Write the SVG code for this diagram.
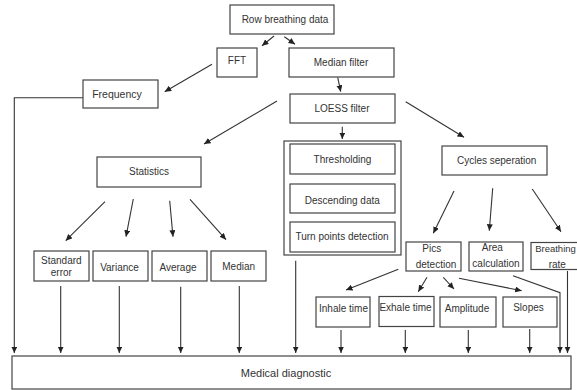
<svg xmlns="http://www.w3.org/2000/svg" width="577" height="390" viewBox="0 0 577 390">
<defs>
<style>
.box{fill:#fff;stroke:#444;stroke-width:1.2}
.t{font-family:"Liberation Sans",Arial,sans-serif;font-size:10px;fill:#333;text-anchor:middle}
.c{fill:none;stroke:#333;stroke-width:1.1}
.a{marker-end:url(#arr)}
</style>
<marker id="arr" markerUnits="userSpaceOnUse" markerWidth="7" markerHeight="7" refX="6.5" refY="3" orient="auto">
<path d="M0,0 L6.5,3 L0,6 z" fill="#222"/>
</marker>
</defs>
<rect width="577" height="390" fill="#fff"/>

<g id="connectors">
<line class="c a" x1="274" y1="36" x2="262" y2="45.7"/>
<line class="c a" x1="284.3" y1="36.7" x2="295" y2="44.3"/>
<line class="c a" x1="212" y1="64.3" x2="164.7" y2="91.7"/>
<line class="c a" x1="337.7" y1="77.3" x2="340.7" y2="91.7"/>
<line class="c a" x1="277" y1="101" x2="204" y2="144"/>
<line class="c a" x1="342.3" y1="126.7" x2="342.3" y2="139"/>
<line class="c a" x1="405.7" y1="101.7" x2="464" y2="137.3"/>
<polyline class="c a" points="83,97.7 14.3,97.7 14.3,353"/>
<line class="c a" x1="105" y1="201.7" x2="65.7" y2="240.7"/>
<line class="c a" x1="133.3" y1="199" x2="126" y2="236.7"/>
<line class="c a" x1="169.7" y1="200.7" x2="173" y2="236.7"/>
<line class="c a" x1="190" y1="199.3" x2="226" y2="239.7"/>
<line class="c a" x1="60.7" y1="286" x2="60.7" y2="353"/>
<line class="c a" x1="119.3" y1="286" x2="119.3" y2="353"/>
<line class="c a" x1="180.7" y1="286.7" x2="180.7" y2="353"/>
<line class="c a" x1="239.3" y1="286" x2="239.3" y2="353"/>
<line class="c a" x1="295.7" y1="260.7" x2="295.7" y2="353"/>
<line class="c a" x1="454" y1="191" x2="433.3" y2="233.3"/>
<line class="c a" x1="492.7" y1="188.3" x2="489.3" y2="230.7"/>
<line class="c a" x1="532.3" y1="189" x2="561" y2="231.7"/>
<line class="c a" x1="398.3" y1="269.3" x2="346" y2="290"/>
<line class="c a" x1="427" y1="277.3" x2="418.3" y2="291.7"/>
<line class="c a" x1="443.3" y1="277.3" x2="454" y2="289"/>
<line class="c a" x1="459" y1="278.3" x2="521.7" y2="290.7"/>
<line class="c a" x1="341" y1="330" x2="341" y2="353"/>
<line class="c a" x1="405.3" y1="330" x2="405.3" y2="353"/>
<line class="c a" x1="468.3" y1="330" x2="468.3" y2="353"/>
<line class="c a" x1="529.7" y1="329" x2="529.7" y2="353"/>
<polyline class="c a" points="513,275.7 560,292.7 560,353"/>
<line class="c a" x1="567.5" y1="271" x2="567.5" y2="353"/>
</g>

<g id="row-breathing-data"><rect class="box" x="230" y="5" width="104" height="29"/><text class="t" x="285" y="23">Row breathing data</text></g>
<g id="fft"><rect class="box" x="217" y="48" width="40" height="29"/><text class="t" x="237" y="63.5">FFT</text></g>
<g id="median-filter"><rect class="box" x="289" y="48" width="105" height="29"/><text class="t" x="341" y="66">Median filter</text></g>
<g id="frequency"><rect class="box" x="83" y="80" width="75" height="28"/><text class="t" x="117" y="98" style="font-size:10.5px">Frequency</text></g>
<g id="loess-filter"><rect class="box" x="290" y="94" width="105" height="29"/><text class="t" x="342" y="111.5">LOESS filter</text></g>
<g id="processing-group"><rect class="box" x="284" y="141" width="117" height="114"/>
<g id="thresholding"><rect class="box" x="290" y="144" width="105" height="30"/><text class="t" x="342.5" y="163">Thresholding</text></g>
<g id="descending-data"><rect class="box" x="290" y="184" width="105" height="29"/><text class="t" x="342.3" y="203.5">Descending data</text></g>
<g id="turn-points"><rect class="box" x="290" y="222" width="105" height="30"/><text class="t" x="342" y="240">Turn points detection</text></g>
</g>
<g id="cycles-seperation"><rect class="box" x="442" y="146" width="105" height="29"/><text class="t" x="496.7" y="164">Cycles seperation</text></g>
<g id="statistics"><rect class="box" x="97" y="157" width="104" height="30"/><text class="t" x="149" y="175">Statistics</text></g>
<g id="standard-error"><rect class="box" x="34" y="251" width="55" height="30"/><text class="t" x="61.3" y="263.5">Standard</text><text class="t" x="61.3" y="276">error</text></g>
<g id="variance"><rect class="box" x="93" y="251" width="55" height="30"/><text class="t" x="119.5" y="271">Variance</text></g>
<g id="average"><rect class="box" x="152" y="251" width="55" height="30"/><text class="t" x="178" y="270.5">Average</text></g>
<g id="median"><rect class="box" x="211" y="251" width="55" height="30"/><text class="t" x="238.7" y="269.5">Median</text></g>
<g id="pics-detection"><rect class="box" x="406" y="242" width="55" height="29"/><text class="t" x="431.7" y="252">Pics</text><text class="t" x="436" y="267.5">detection</text></g>
<g id="area-calculation"><rect class="box" x="469" y="242" width="54" height="29"/><text class="t" x="492.3" y="251">Area</text><text class="t" x="496" y="267">calculation</text></g>
<g id="breathing-rate"><rect class="box" x="531" y="242.5" width="52" height="27"/><text class="t" x="555.5" y="252" style="font-size:9.5px">Breathing</text><text class="t" x="557.3" y="267.5">rate</text></g>
<g id="inhale-time"><rect class="box" x="316" y="297" width="54" height="30"/><text class="t" x="343.5" y="312">Inhale time</text></g>
<g id="exhale-time"><rect class="box" x="379" y="296.5" width="55" height="30"/><text class="t" x="405.5" y="311">Exhale time</text></g>
<g id="amplitude"><rect class="box" x="440" y="297" width="56" height="30"/><text class="t" x="467" y="311.5">Amplitude</text></g>
<g id="slopes"><rect class="box" x="503" y="297" width="54" height="30"/><text class="t" x="528.5" y="311">Slopes</text></g>
<g id="medical-diagnostic"><rect class="box" x="12" y="356" width="559" height="33"/><text class="t" x="286" y="377" style="font-size:11px">Medical diagnostic</text></g>
</svg>
